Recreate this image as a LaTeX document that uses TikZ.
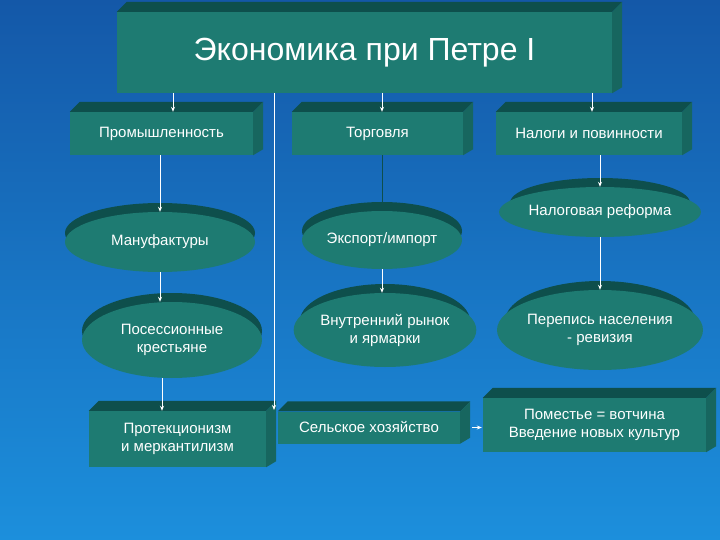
\documentclass[tikz,border=0pt]{standalone}
\usepackage{fontspec}
\setmainfont{Liberation Sans}
\usetikzlibrary{shapes.geometric,arrows.meta}
\definecolor{bgtop}{HTML}{1458A8}
\definecolor{bgbot}{HTML}{1C8FDC}
\definecolor{front}{HTML}{1E7B72}
\definecolor{topc}{HTML}{0E4F4C}
\definecolor{sidec}{HTML}{17665F}
\tikzset{
 box/.style={fill=front,text=white,inner sep=0pt,align=center,font=\fontsize{15}{18}\selectfont},
 topface/.style={fill=topc},
 sideface/.style={fill=sidec},
 oval/.style={ellipse,fill=front,text=white,inner sep=0pt,align=center,font=\fontsize{15}{18}\selectfont},
 shell/.style={ellipse,fill=topc,inner sep=0pt},
 arr/.style={draw=white,line width=0.8pt,-{Stealth[length=5pt,width=4pt]}}
}
\newcommand\prism[6]{%
 \node[box,minimum width=#4pt,minimum height=#5pt] (#1) at (#2,#3) {#6};
 \fill[topface] (#1.north west) -- ++(10,-10) -- ([xshift=10pt,yshift=10pt]#1.north east) -- (#1.north east) -- cycle;
 \fill[sideface] (#1.north east) -- ++(10,-10) -- ([xshift=10pt,yshift=6pt]#1.south east) -- (#1.south east) -- cycle;
}
\newcommand\disc[6]{%
 \node[shell,minimum width=#4pt,minimum height=#5pt] at (#2,#3-9) {};
 \node[oval,minimum width=#4pt,minimum height=#5pt] (#1) at (#2,#3) {#6};
}
\begin{document}
\begin{tikzpicture}[x=1pt,y=-1pt]
\shade[top color=bgtop,bottom color=bgbot] (0,0) rectangle (720,540);
\useasboundingbox (0,0) rectangle (720,540);
\prism{title}{364.5}{52.5}{495}{81}{\fontsize{32}{36}\selectfont Экономика при Петре I}
\prism{prom}{161.5}{133.5}{183}{43}{Промышленность}
\prism{torg}{377.5}{133.5}{171}{43}{Торговля}
\prism{nalogi}{589}{133.5}{186}{43}{Налоги и повинности}
\disc{manuf}{160}{242}{190}{60}{Мануфактуры}
\disc{poses}{172}{340}{180}{76}{Посессионные\\крестьяне}
\disc{export}{382}{240}{160}{58}{Экспорт/импорт}
\disc{rynok}{385}{330}{170}{74}{Внутренний рынок\\и ярмарки}
\disc{reforma}{600}{212}{180}{50}{Налоговая реформа}
\disc{perepis}{600}{330}{190}{80}{Перепись населения\\- ревизия}
\prism{protek}{177.5}{439}{177}{56}{Протекционизм\\и меркантилизм}
\prism{selsk}{369}{427.5}{182}{32}{Сельское хозяйство}
\prism{pomest}{594.5}{425}{223}{54}{Поместье = вотчина\\Введение новых культур}
\coordinate (t1) at (173,93); \coordinate (t2) at (382,93); \coordinate (t3) at (592,93);
\coordinate (t4) at (274,93); \coordinate (t5) at (274,410);
\draw[arr] (t1) -- (t1 |- prom.north);
\draw[arr] (t2) -- (t2 |- torg.north);
\draw[arr] (t3) -- (t3 |- nalogi.north);
\draw[arr] (t4) -- (t5);
\draw[arr] (prom.south -| manuf.north) -- (manuf.north);
\draw[arr] (manuf.south) -- (poses.north -| manuf.south);
\draw[arr] (poses.south -| 162,0) -- (protek.north -| 162,0);
\draw[arr,draw=topc] (torg.south -| export.north) -- (export.north);
\draw[arr] (export.south) -- (rynok.north -| export.south);
\draw[arr] (nalogi.south -| reforma.north) -- (reforma.north);
\draw[arr] (reforma.south) -- (perepis.north);
\draw[arr] ([xshift=12pt]selsk.east) -- ([xshift=-1pt]pomest.west |- selsk.east);
\end{tikzpicture}
\end{document}
